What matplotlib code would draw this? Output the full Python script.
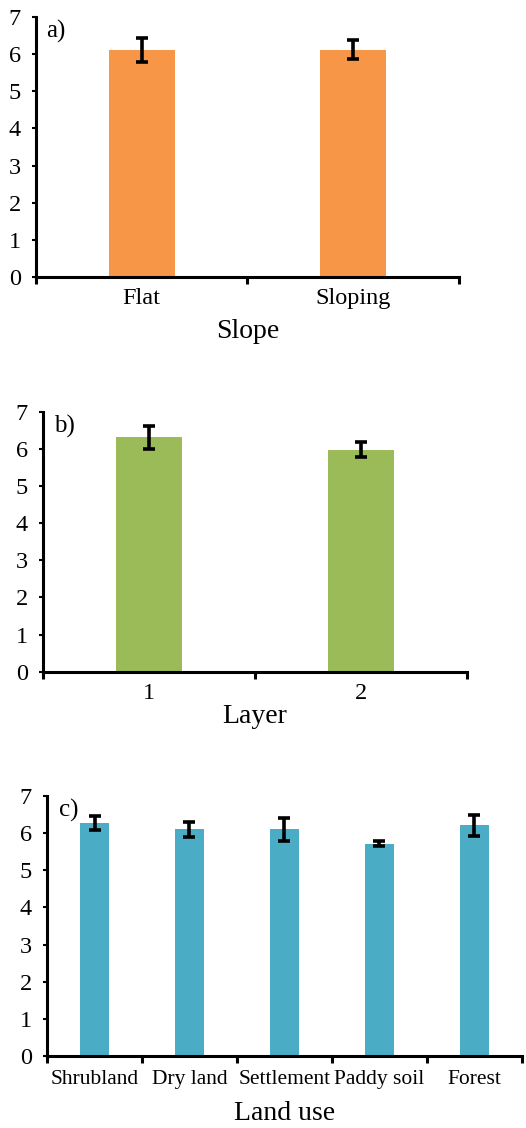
import numpy as np
import matplotlib
matplotlib.use("Agg")
from matplotlib import pyplot as plt

plt.rcParams['font.family'] = ['Liberation Serif', 'DejaVu Serif']

# Panel a) slope
slope_labels = ["Flat", "Sloping"]
slope_means = [6.11, 6.12]
slope_err = [0.33, 0.26]

# Panel b) layer
layer_labels = ["1", "2"]
layer_means = [6.31, 5.98]
layer_err = [0.31, 0.20]

# Panel c) land use
land_labels = ["Shrubland", "Dry land", "Settlement", "Paddy soil", "Forest"]
land_means = [6.27, 6.11, 6.11, 5.72, 6.21]
land_err = [0.18, 0.20, 0.31, 0.07, 0.29]

yticks = [0, 1, 2, 3, 4, 5, 6, 7]


def draw_panel(ax, labels, means, errs, color, xlabel, tag, ticksize, tickpad, labelpad):
    x = np.arange(len(labels))
    ax.bar(x, means, width=0.31, color=color, zorder=2)
    ax.errorbar(x, means, yerr=errs, fmt='none', ecolor='black',
                elinewidth=2.6, capsize=4, capthick=2.6, zorder=3)
    ax.set_xlim(-0.5, len(labels) - 0.5)
    ax.set_ylim(0, 7)
    ax.set_yticks(yticks)
    ax.set_xticks(x)
    ax.set_xticklabels(labels, fontsize=ticksize)
    ax.set_xticks(np.arange(len(labels) + 1) - 0.5, minor=True)
    ax.tick_params(axis='x', which='major', length=0, pad=tickpad)
    ax.tick_params(axis='x', which='minor', length=5, width=2.2, direction='out')
    ax.tick_params(axis='y', which='major', length=3, width=1.5, pad=8,
                   labelsize=17.5)
    for side in ['top', 'right']:
        ax.spines[side].set_visible(False)
    for side in ['left', 'bottom']:
        ax.spines[side].set_linewidth(2.2)
    ax.set_xlabel(xlabel, fontsize=20, labelpad=labelpad)
    ax.text(0.025, 0.92, tag, transform=ax.transAxes, fontsize=18,
            ha='left', va='baseline')


fig = plt.figure(figsize=(5.26, 11.28), dpi=100)
ax_a = fig.add_axes([0.0684, 0.7544, 0.8042, 0.2305])
ax_b = fig.add_axes([0.0817, 0.4045, 0.8063, 0.2305])
ax_c = fig.add_axes([0.0894, 0.0638, 0.9026, 0.2305])

draw_panel(ax_a, slope_labels, slope_means, slope_err, '#F79646', 'Slope', 'a)', 17.5, 8, 7)
draw_panel(ax_b, layer_labels, layer_means, layer_err, '#9BBB59', 'Layer', 'b)', 17.5, 8, 0)
draw_panel(ax_c, land_labels, land_means, land_err, '#4BACC6', 'Land use', 'c)', 15.5, 10, 9)

fig.savefig("out.png", dpi=100)
